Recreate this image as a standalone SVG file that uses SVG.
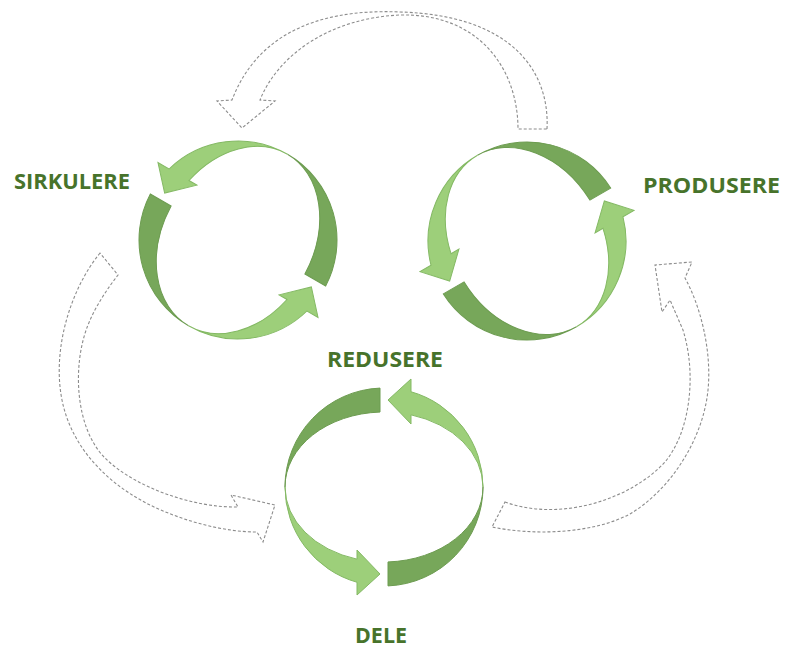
<svg xmlns="http://www.w3.org/2000/svg" width="787" height="649" viewBox="0 0 787 649">
<style>
.dk{fill:#77a75a;stroke:#6d9c51;stroke-width:1}
.lt{fill:#9dcf7a;stroke:#84b964;stroke-width:1}
.lbl{font-family:"Open Sans","Liberation Sans",sans-serif;font-weight:700;font-size:21px;fill:#47732b}
.dash{fill:none;stroke:#8c8c8c;stroke-width:1.1;stroke-dasharray:3 2}
</style>
<defs>
<g id="half">
<path class="dk" d="M-4,-98.92 A99,99 0 0 0 -99,0 A99,75 0 0 1 -4,-74.94 Z"/>
<path class="lt" d="M-99,0 A99,99 0 0 0 -27,95.25 L-27,108 L-4,87 L-27,63 L-27,72.16 A99,75 0 0 1 -99,0 Z"/>
</g>
<g id="cyc">
<use href="#half"/>
<use href="#half" transform="rotate(180)"/>
</g>
</defs>
<rect width="787" height="649" fill="#ffffff"/>
<g id="connectors">
<path class="dash" d="M547,129 C550,70 510,15 400,12 C310,8 255,40 232,100 L217,101 L242,128 L275,101 L260,100 C278,55 330,18 400,15 C480,13 518,70 518,129 Z"/>
<path class="dash" d="M100,253 C70,290 52,350 62,400 C72,450 110,485 150,505 C185,522 225,532 257,532 L263,542 L275,505 L231,495 L238,507 C195,508 135,488 105,458 C75,428 72,365 88,325 C96,305 108,288 118,275 Z"/>
<path class="dash" d="M505,502 C560,522 630,500 665,462 C690,432 697,375 683,330 L670,300 L662,312 L655,265 L692,262 L685,278 C700,305 712,350 708,390 C703,440 670,490 630,514 C590,535 530,535 492,527 Z"/>
</g>
<g id="node-sirkulere">
<use href="#cyc" transform="translate(238,240) rotate(-60)"/>
<text class="lbl" x="14" y="189" textLength="116" lengthAdjust="spacingAndGlyphs">SIRKULERE</text>
</g>
<g id="node-produsere">
<use href="#cyc" transform="translate(527,241) rotate(-120)"/>
<text class="lbl" x="643" y="193" textLength="137" lengthAdjust="spacingAndGlyphs">PRODUSERE</text>
</g>
<g id="node-redusere">
<text class="lbl" x="327" y="367" textLength="116" lengthAdjust="spacingAndGlyphs">REDUSERE</text>
</g>
<g id="node-dele">
<use href="#cyc" transform="translate(384,487)"/>
<text class="lbl" x="355" y="643" textLength="52" lengthAdjust="spacingAndGlyphs">DELE</text>
</g>
</svg>
